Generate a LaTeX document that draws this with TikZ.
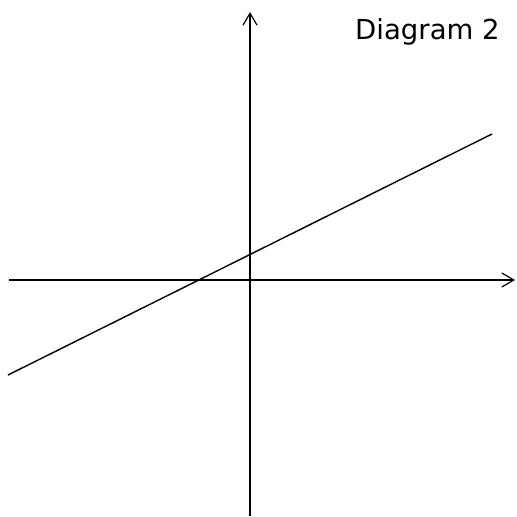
\documentclass[tikz,border=0pt]{standalone}
\usepackage{fontspec}
\setmainfont{DejaVu Sans}
\usetikzlibrary{arrows.meta}

\tikzset{
  axisline/.style={line width=1.5pt, -{Straight Barb[length=0.36cm, width=0.42cm, line width=1pt]}},
  graphline/.style={line width=1.2pt},
  titlelabel/.style={anchor=base west, inner sep=0pt, font=\fontsize{23.5}{28}\selectfont}
}

\begin{document}
\begin{tikzpicture}[x=0.03cm, y=-0.03cm]
  \useasboundingbox (0,0) rectangle (517,516);
  % axes
  \coordinate (xleft) at (9,280);
  \coordinate (xright) at (515,280);
  \coordinate (ybottom) at (250,516);
  \coordinate (ytop) at (250,12);
  \draw[axisline] (xleft) -- (xright);
  \draw[axisline] (ybottom) -- (ytop);
  % the line
  \coordinate (lstart) at (8,375);
  \coordinate (lend) at (492,134);
  \draw[graphline] (lstart) -- (lend);
  \node[titlelabel] (title) at (355,40) {Diagram 2};
\end{tikzpicture}
\end{document}
